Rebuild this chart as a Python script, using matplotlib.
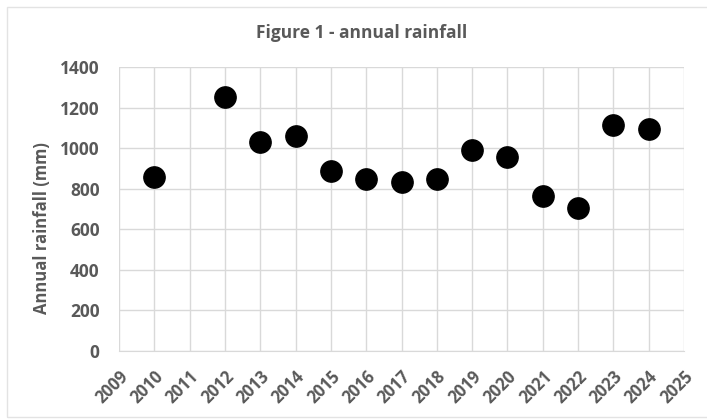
import matplotlib.pyplot as plt
from matplotlib.patches import Rectangle

years = [2010, 2012, 2013, 2014, 2015, 2016, 2017, 2018, 2019, 2020, 2021, 2022, 2023, 2024]
rainfall = [859, 1254, 1029, 1060, 885, 847, 834, 847, 990, 957, 763, 703, 1114, 1094]
x_ticks = list(range(2009, 2026))
y_ticks = list(range(0, 1401, 200))

txt = '#595959'
grid = '#d9d9d9'
plt.rcParams['font.family'] = ['Open Sans', 'DejaVu Sans']

fig = plt.figure(figsize=(7.07, 4.19), dpi=100)
fig.patches.append(Rectangle((7/707, 2/419), 1.2, 410/419, transform=fig.transFigure,
                             fill=False, edgecolor='#e3e3e3', linewidth=1))
ax = fig.add_axes([119/707, 1 - 350.7/419, (684 - 119)/707, (350.7 - 67)/419])

ax.scatter(years, rainfall, s=235, color='black', zorder=3)

ax.set_xlim(2009, 2025)
ax.set_ylim(0, 1400)
ax.set_xticks(x_ticks)
ax.set_yticks(y_ticks)
ax.set_xticklabels([str(t) for t in x_ticks], rotation=45, ha='right',
                   rotation_mode='anchor', fontsize=12, fontweight='bold', color=txt)
ax.set_yticklabels([str(t) for t in y_ticks], fontsize=12.5, fontweight='bold', color=txt)
ax.tick_params(length=0)
ax.tick_params(axis='y', pad=14)
ax.tick_params(axis='x', pad=12)

ax.grid(True, color=grid, linewidth=1)
ax.set_axisbelow(True)
for s in ['top', 'right', 'left']:
    ax.spines[s].set_visible(False)
ax.spines['bottom'].set_color(grid)

fig.text(42/707, 1 - 228/419, 'Annual rainfall (mm)', rotation=90, ha='center', va='center',
         fontsize=12, fontweight='bold', color=txt)
fig.text(362/707, 1 - 33/419, 'Figure 1 - annual rainfall', ha='center', va='center',
         fontsize=12.5, fontweight='bold', color=txt)

fig.savefig('out.png', dpi=100)
